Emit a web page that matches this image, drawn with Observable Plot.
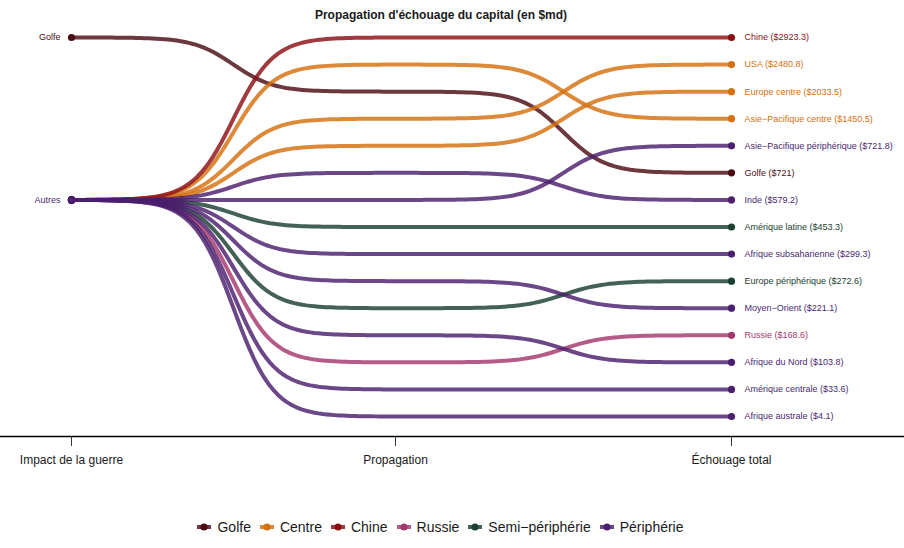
<!DOCTYPE html>
<html>
<head>
<meta charset="utf-8">
<script src="https://cdn.jsdelivr.net/npm/d3@7"></script>
<script src="https://cdn.jsdelivr.net/npm/@observablehq/plot@0.6"></script>
<style>
  body { margin: 0; background: #fff; }
  #wrap { position: relative; width: 904px; height: 548px; font-family: "Liberation Sans", Arial, sans-serif; color: #1a1a1a; }
  #title { position: absolute; top: 8px; left: 0; width: 882px; text-align: center; font-weight: bold; font-size: 12px; line-height: 14px; }
  #chart { position: absolute; top: 24px; left: 0; }
  #legend { position: absolute; top: 518px; left: 0; width: 890px; display: flex; justify-content: center; align-items: center; font-size: 14px; line-height: 18px; }
  .item { display: flex; align-items: center; margin-right: 9px; }
  .item svg { margin-right: 6px; }
</style>
</head>
<body>
<div id="wrap">
  <div id="title"></div>
  <div id="chart"></div>
  <div id="legend"></div>
</div>
<script>
// ---- Data ----
const title = "Propagation d'échouage du capital (en $md)";
const stageLabels = ["Impact de la guerre", "Propagation", "Échouage total"];
const stageIndex = [0, 1, 2];

const regions = ["Chine", "USA", "Europe centre", "Asie−Pacifique centre", "Asie−Pacifique périphérique",
  "Golfe", "Inde", "Amérique latine", "Afrique subsaharienne", "Europe périphérique",
  "Moyen−Orient", "Russie", "Afrique du Nord", "Amérique centrale", "Afrique australe"];
const regionGroups = ["Chine", "Centre", "Centre", "Centre", "Périphérie",
  "Golfe", "Périphérie", "Semi−périphérie", "Périphérie", "Semi−périphérie",
  "Périphérie", "Russie", "Périphérie", "Périphérie", "Périphérie"];
const values = [2923.3, 2480.8, 2033.5, 1450.5, 721.8, 721, 579.2, 453.3, 299.3, 272.6, 221.1, 168.6, 103.8, 33.6, 4.1];
const rankImpact = [7, 7, 7, 7, 7, 1, 7, 7, 7, 7, 7, 7, 7, 7, 7];
const rankPropagation = [1, 4, 5, 2, 7, 3, 6, 8, 9, 11, 10, 13, 12, 14, 15];
const rankFinal = [1, 2, 3, 4, 5, 6, 7, 8, 9, 10, 11, 12, 13, 14, 15];

const impactCategories = ["Golfe", "Autres"];
const impactRanks = [1, 7];
const impactGroups = ["Golfe", "Périphérie"];

const groupOrder = ["Golfe", "Centre", "Chine", "Russie", "Semi−périphérie", "Périphérie"];
const groupColors = ["#4a0c12", "#d4700e", "#8c0f14", "#a3386c", "#1a4030", "#4a1f6e"];

// ---- Build tables ----
const order = d3.range(regions.length).sort((a, b) =>
  groupOrder.indexOf(regionGroups[a]) - groupOrder.indexOf(regionGroups[b]) || a - b);
const ranks = [rankImpact, rankPropagation, rankFinal];
const long = [];
for (const i of order) {
  for (const s of stageIndex) {
    long.push({region: regions[i], group: regionGroups[i], stage: s, rank: ranks[s][i], value: values[i]});
  }
}
const endpoints = long.filter(d => d.stage !== 1);
const finals = long.filter(d => d.stage === 2);
const impacts = impactCategories.map((c, i) => ({label: c, rank: impactRanks[i], group: impactGroups[i]}));

// ---- Sigmoid curve (like ggbump) ----
function curveSigmoid(context) {
  let x0, y0, started;
  const S = 8, N = 80;
  const lo = 1 / (1 + Math.exp(S)), hi = 1 / (1 + Math.exp(-S));
  return {
    areaStart() {}, areaEnd() {},
    lineStart() { started = false; },
    lineEnd() {},
    point(x, y) {
      x = +x; y = +y;
      if (!started) { started = true; context.moveTo(x, y); }
      else {
        for (let k = 1; k <= N; k++) {
          const u = k / N;
          const f = (1 / (1 + Math.exp(-(-S + 2 * S * u))) - lo) / (hi - lo);
          context.lineTo(x0 + (x - x0) * u, y0 + (y - y0) * f);
        }
      }
      x0 = x; y0 = y;
    }
  };
}

document.getElementById("title").textContent = title;

const chart = Plot.plot({
  width: 904,
  height: 456,
  marginTop: 0,
  marginLeft: 0,
  marginRight: 0,
  marginBottom: 44,
  style: {fontFamily: "'Liberation Sans', Arial, sans-serif", background: "white", overflow: "visible"},
  x: {type: "linear", domain: [0, 1, 2], range: [71, 395, 731], axis: null},
  y: {type: "linear", domain: [1, 15], range: [13, 392], axis: null},
  color: {domain: groupOrder, range: groupColors},
  marks: [
    Plot.frame({anchor: "bottom", stroke: "#000", strokeWidth: 1.6}),
    Plot.axisX({ticks: stageIndex, tickFormat: i => stageLabels[i], tickSize: 10, tickPadding: 9,
      fontSize: 12, stroke: "#333", fill: "#1a1a1a", anchor: "bottom", label: null}),
    Plot.line(long, {x: "stage", y: "rank", z: "region", stroke: "group", strokeWidth: 4,
      strokeOpacity: 0.82, curve: curveSigmoid, strokeLinecap: "butt"}),
    Plot.dot(endpoints, {x: "stage", y: "rank", fill: "group", r: 3.6}),
    Plot.text(finals, {x: "stage", y: "rank", text: d => `${d.region} ($${d.value})`, fill: "group",
      textAnchor: "start", dx: 13, fontSize: 9}),
    Plot.text(impacts, {x: () => 0, y: "rank", text: "label", fill: "group",
      textAnchor: "end", dx: -11, fontSize: 9})
  ]
});
document.getElementById("chart").appendChild(chart);

// ---- Legend ----
const legend = document.getElementById("legend");
groupOrder.forEach((g, i) => {
  const item = document.createElement("div");
  item.className = "item";
  item.innerHTML = `<svg width="14" height="10"><line x1="0" y1="5" x2="14" y2="5" stroke="${groupColors[i]}" stroke-opacity="0.82" stroke-width="4"/><circle cx="7" cy="5" r="3.6" fill="${groupColors[i]}"/></svg><span>${g}</span>`;
  legend.appendChild(item);
});
</script>
</body>
</html>
